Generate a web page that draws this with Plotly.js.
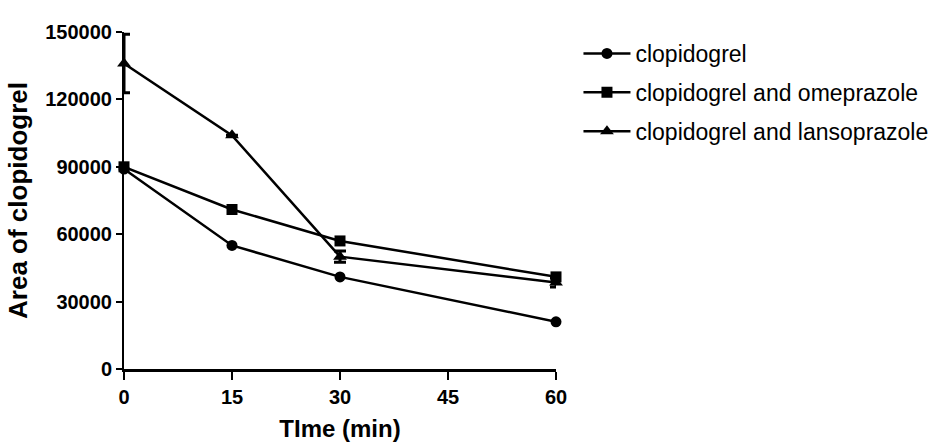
<!DOCTYPE html>
<html>
<head>
<meta charset="utf-8">
<script src="https://cdn.plot.ly/plotly-3.0.1.min.js"></script>
<style>html,body{margin:0;padding:0;background:#fff;}#chart{width:935px;height:446px;}</style>
</head>
<body>
<div id="chart"></div>
<script>
const timeMin = [0, 15, 30, 60];
const clopidogrel = [89000, 55000, 41000, 21000];
const clopOmeprazole = [90000, 71000, 57000, 41000];
const clopLansoprazole = [136000, 104000, 50000, 38500];
const lansoErr = [13000, 0, 2500, 2000];
const seriesNames = ["clopidogrel", "clopidogrel and omeprazole", "clopidogrel and lansoprazole"];
const xTicks = [0, 15, 30, 45, 60];
const yTicks = [0, 30000, 60000, 90000, 120000, 150000];

const base = {mode: 'lines+markers', line: {color: '#000', width: 2.5}, cliponaxis: false};
const traces = [
  Object.assign({}, base, {x: timeMin, y: clopidogrel, name: seriesNames[0], legendgroup: 'a',
    marker: {symbol: 'circle', size: 11, color: '#000'}}),
  Object.assign({}, base, {x: timeMin, y: clopOmeprazole, name: seriesNames[1], legendgroup: 'b',
    marker: {symbol: 'square', size: 11, color: '#000'}}),
  Object.assign({}, base, {x: timeMin, y: clopLansoprazole, name: seriesNames[2], legendgroup: 'c',
    marker: {symbol: 'triangle-up', size: 12, color: '#000'},
    error_y: {type: 'data', array: lansoErr, visible: true, color: '#000', thickness: 3, width: 6}})
];

const tickFont = {family: 'Liberation Sans, Arial, sans-serif', size: 20, color: '#000', weight: 'bold'};
const layout = {
  width: 935, height: 446,
  margin: {l: 124, r: 379, t: 32, b: 77, autoexpand: false},
  paper_bgcolor: '#fff', plot_bgcolor: '#fff',
  showlegend: true,
  legend: {x: 1.052, y: 1.0, xanchor: 'left', yanchor: 'top', tracegroupgap: 6, itemwidth: 47,
    font: {family: 'Liberation Sans, Arial, sans-serif', size: 23, color: '#000'},
    bgcolor: 'rgba(0,0,0,0)'},
  xaxis: {range: [0, 60], tickvals: xTicks, ticktext: xTicks.map(String),
    showgrid: false, zeroline: false, showline: true, linecolor: '#000', linewidth: 3,
    ticks: 'outside', ticklen: 8, tickwidth: 2, tickcolor: '#000', tickfont: tickFont,
    title: {text: 'TIme (min)', font: {family: 'Liberation Sans, Arial, sans-serif', size: 24, color: '#000', weight: 'bold'}, standoff: 14}},
  yaxis: {range: [0, 150000], tickvals: yTicks, ticktext: yTicks.map(String),
    showgrid: false, zeroline: false, showline: true, linecolor: '#000', linewidth: 2,
    ticks: 'outside', ticklen: 6, tickwidth: 2, tickcolor: '#000', tickfont: tickFont,
    title: {text: 'Area of clopidogrel', font: {family: 'Liberation Sans, Arial, sans-serif', size: 26, color: '#000', weight: 'bold'}, standoff: 10}}
};
Plotly.newPlot('chart', traces, layout, {displayModeBar: false, staticPlot: true});
</script>
</body>
</html>
